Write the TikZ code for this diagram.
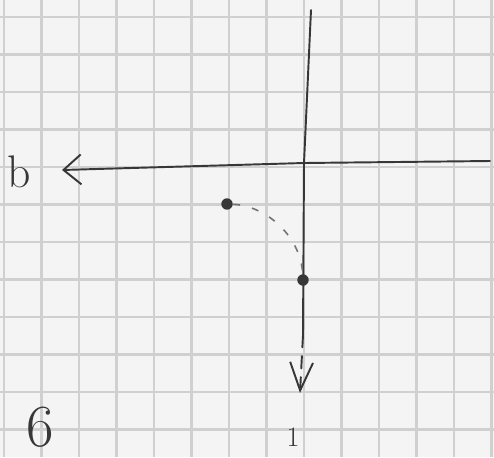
\documentclass[tikz,border=0pt]{standalone}
\usepackage{tikz}
\usetikzlibrary{arrows.meta}
\definecolor{paper}{RGB}{244,244,244}
\definecolor{gridgray}{RGB}{208,208,208}
\definecolor{pencil}{RGB}{55,55,55}

\begin{document}
\begin{tikzpicture}[x=0.02cm,y=-0.02cm,
    axis/.style={pencil,line width=1.1pt,line cap=round},
    dot/.style={circle,fill=pencil,inner sep=0pt,minimum size=6.5pt},
    hand/.style={text=pencil,inner sep=0pt}]
  % Paper with squared grid
  \fill[paper] (0,0) rectangle (494,457);
  \useasboundingbox (0,0) rectangle (494,457);
  \foreach \i in {0,...,13}
    \draw[gridgray,line width=1.3pt] ({4+37.5*\i},0) -- ({4+37.5*\i},457);
  \foreach \j in {0,...,11}
    \draw[gridgray,line width=1.3pt] (0,{17+37.5*\j}) -- (494,{17+37.5*\j});

  % Axes
  \coordinate (vtop) at (311,10);
  \coordinate (orig) at (304,163);
  \coordinate (vend) at (303,335);
  \coordinate (vtip) at (300,393);
  \coordinate (hright) at (490,161);
  \coordinate (htip) at (62,170);
  \draw[axis] (vtop) -- (orig) -- (vend);
  \draw[axis,dash pattern=on 7pt off 5pt,
        -{Straight Barb[length=16pt,width=13pt,line width=1.1pt]}]
        (vend) -- (vtip);
  \draw[axis,-{Straight Barb[length=10pt,width=17pt,line width=1.1pt]}]
        (hright) -- (orig) -- (htip);

  % Points and the dashed arc between them
  \node[dot] (p) at (227,204) {};
  \node[dot] (q) at (303,280) {};
  \draw[pencil!70,line width=0.9pt,dash pattern=on 4pt off 7pt]
        (p) .. controls (268,206) and (301,238) .. (q);

  % Hand written marks
  \node[hand,font=\fontsize{26}{26}\selectfont] (blabel) at (19,172) {b};
  \node[hand,font=\fontsize{16}{16}\selectfont] (one) at (293,437) {1};
  \node[hand,font=\fontsize{34}{34}\selectfont,anchor=south] (six) at (40,448) {6};
\end{tikzpicture}
\end{document}
